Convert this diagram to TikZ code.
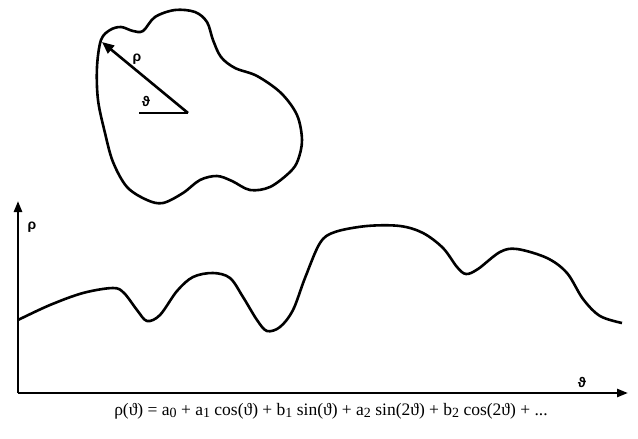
\documentclass[tikz,border=0pt]{standalone}
\usepackage{fontspec}
\setmainfont{Liberation Serif}
\newfontfamily\lblfont{Liberation Sans}
\usetikzlibrary{arrows.meta}
\newcommand{\sbx}[1]{\raisebox{-0.3ex}{\fontsize{14}{14}\selectfont #1}}
\begin{document}
\begin{tikzpicture}[x=1pt,y=-1pt,
  curve/.style={line width=2.6pt,line join=round},
  axis/.style={line width=2.4pt,-{Triangle[length=11pt,width=8pt]}},
  lbl/.style={font=\lblfont\bfseries\fontsize{14}{14}\selectfont,inner sep=0pt}]
\useasboundingbox (0,0) rectangle (638,439);
% blob
\draw[curve] plot[smooth cycle,tension=0.55] coordinates {
 (101,40) (110,30) (121,27) (133,31) (143,31) (155,17) (175,10) (195,12)
 (207,22) (213,40) (221,57) (235,68) (257,76) (281,93) (297,115) (302,140)
 (298,160) (290,172) (270,187) (250,190) (232,181) (217,176) (200,180)
 (183,193) (163,203) (147,200) (127,187) (113,162) (105,133) (98,100) (97,67)};
\coordinate (c) at (188,113);
\coordinate (tip) at (102,42);
\coordinate (h) at (139,113);
\draw[line width=2.6pt] (h) -- (c);
\draw[line width=2.6pt,-{Triangle[length=12pt,width=10pt]}] (c) -- (tip);
\node[lbl] (rho1) at (137,59) {ρ};
\node[lbl] (th1) at (146,101) {ϑ};
% axes
\coordinate (o) at (18,393);
\coordinate (ytip) at (18,201);
\coordinate (xtip) at (628,393);
\draw[axis] (o) -- (ytip);
\draw[axis] (o) -- (xtip);
\node[lbl] (rho2) at (32,227) {ρ};
\node[lbl] (th2) at (582,382) {ϑ};
% function curve
\draw[curve] plot[smooth,tension=0.55] coordinates {
 (18,320) (50,305) (83,293) (113,288) (124,293) (137,310) (147,321)
 (160,315) (177,291) (193,277) (213,273) (230,278) (243,297) (257,320)
 (267,331) (280,327) (293,310) (305,278) (320,243) (335,232) (367,226)
 (400,226) (423,233) (443,248) (457,267) (466,274) (478,269) (500,252)
 (517,249) (547,258) (567,273) (583,299) (600,316) (622,323)};
% formula
\node[inner sep=0pt,font=\fontsize{17.5}{20}\selectfont] (eq) at (331,411)
 {ρ(ϑ) = a\sbx{0} + a\sbx{1} cos(ϑ) + b\sbx{1} sin(ϑ) + a\sbx{2} sin(2ϑ) + b\sbx{2} cos(2ϑ) + ...};
\end{tikzpicture}
\end{document}
